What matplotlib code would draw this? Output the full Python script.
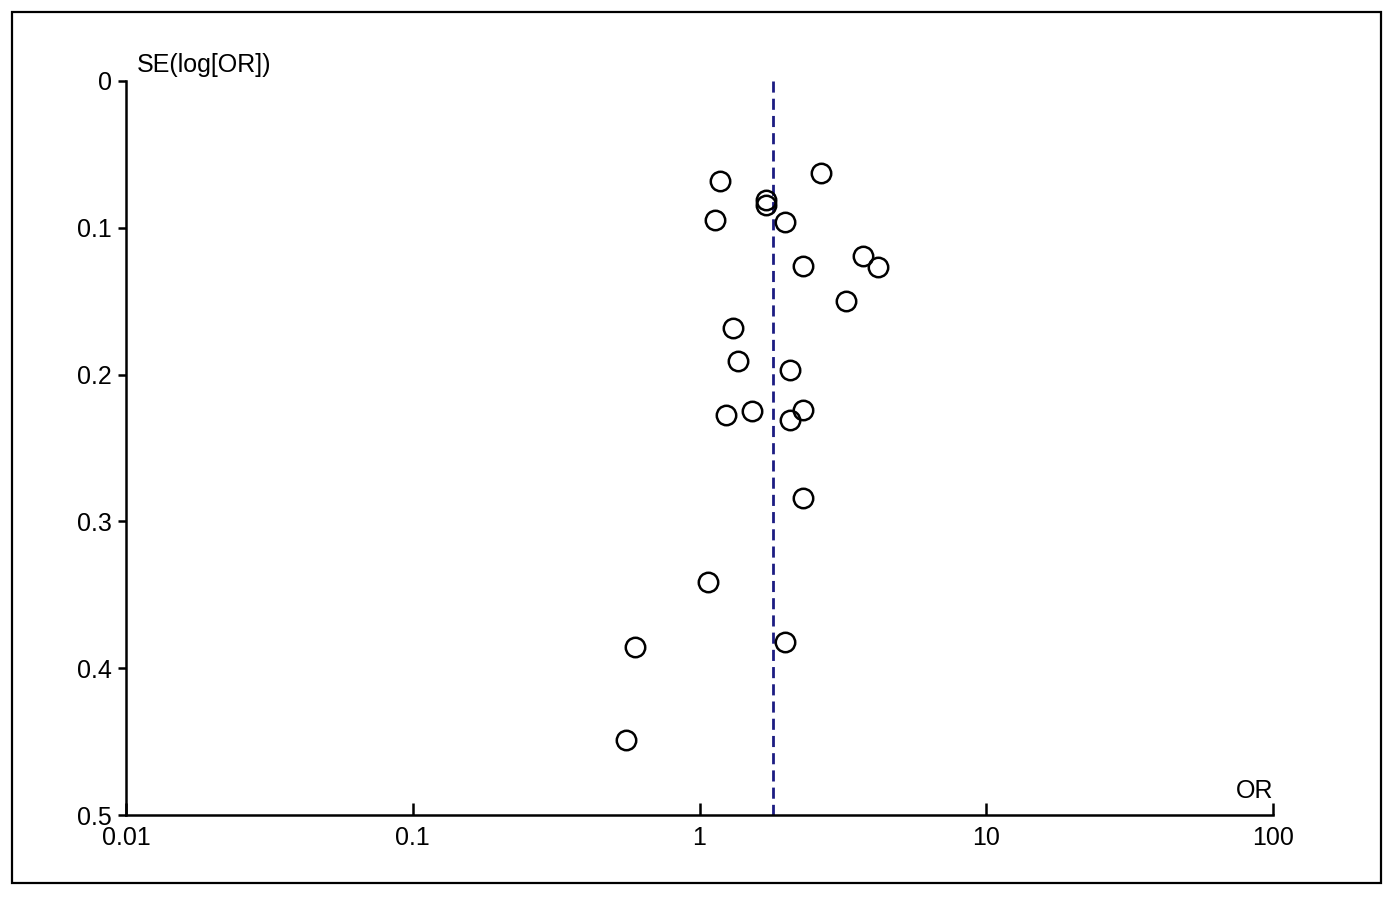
import matplotlib
matplotlib.use("Agg")
from matplotlib import pyplot as plt
from matplotlib.patches import Rectangle
import numpy as np

# funnel plot data
odds_ratio = [1.18, 2.66, 1.70, 1.71, 1.13, 1.99, 2.30, 3.73, 4.20, 3.23, 1.31,
              1.36, 2.06, 1.24, 1.52, 2.06, 2.30, 2.30, 1.07, 0.598, 1.99, 0.552]
se_log_or = [0.068, 0.063, 0.081, 0.0845, 0.095, 0.096, 0.126, 0.119, 0.127, 0.150, 0.168,
             0.191, 0.197, 0.2275, 0.225, 0.231, 0.224, 0.284, 0.341, 0.3856, 0.382, 0.449]
pooled_or = 1.80
x_ticks = [0.01, 0.1, 1, 10, 100]
x_labels = ["0.01", "0.1", "1", "10", "100"]
y_ticks = [0, 0.1, 0.2, 0.3, 0.4, 0.5]
y_labels = ["0", "0.1", "0.2", "0.3", "0.4", "0.5"]

plt.rcParams['font.family'] = ['Liberation Sans', 'DejaVu Sans']

fig = plt.figure(figsize=(14, 8.97), dpi=100)
ax = fig.add_axes([126 / 1400, 1 - 815 / 897, (1273 - 126) / 1400, (815 - 81) / 897])

# outer frame
fig.patches.append(Rectangle((12 / 1400, 1 - 883 / 897), (1381 - 12) / 1400, (883 - 12) / 897,
                             transform=fig.transFigure, fill=False, edgecolor='black', linewidth=1.6))

ax.plot([pooled_or, pooled_or], [0, 0.5], color='#1c1c82', linestyle=(0, (4, 2.2)), linewidth=2)
ax.plot(odds_ratio, se_log_or, linestyle='none', marker='o', markersize=14,
        markerfacecolor='none', markeredgecolor='black', markeredgewidth=1.8)

ax.set_xscale('log')
ax.set_xlim(0.01, 100)
ax.set_ylim(0.5, 0)
ax.set_xticks(x_ticks)
ax.set_xticklabels(x_labels)
ax.minorticks_off()
ax.set_yticks(y_ticks)
ax.set_yticklabels(y_labels)

for s in ['top', 'right']:
    ax.spines[s].set_visible(False)
for s in ['left', 'bottom']:
    ax.spines[s].set_linewidth(1.8)

ax.tick_params(axis='x', direction='in', length=9, width=1.8, labelsize=18, pad=8)
ax.tick_params(axis='y', direction='out', length=6, width=1.8, labelsize=18, pad=4)

ax.text(137 / 1400, 1 - 65 / 897, "SE(log[OR])", transform=fig.transFigure,
        fontsize=18, ha='left', va='center')
ax.text(1255 / 1400, 1 - 791 / 897, "OR", transform=fig.transFigure,
        fontsize=18, ha='center', va='center')

fig.savefig("out.png", dpi=100)
